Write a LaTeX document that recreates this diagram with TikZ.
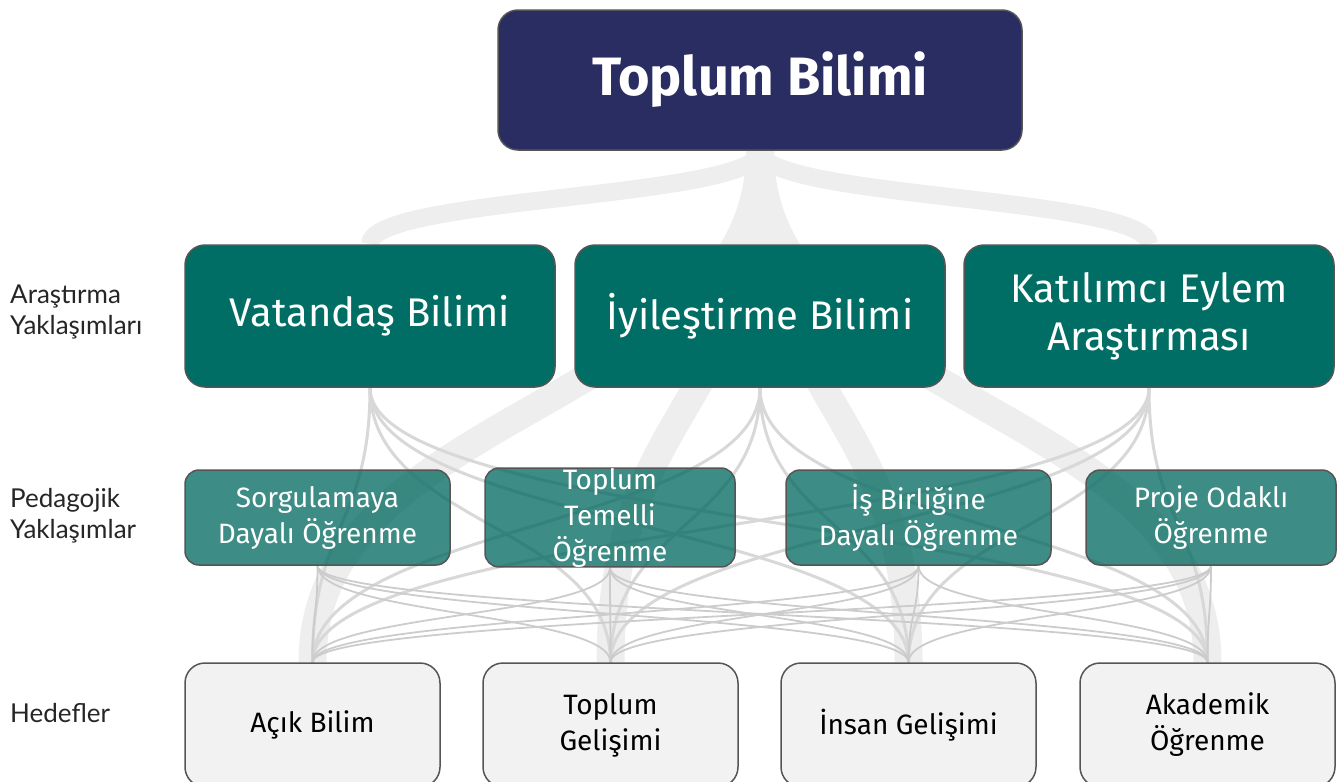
\documentclass[tikz,border=0pt]{standalone}
\usepackage{fontspec}
\setmainfont{Fira Sans}
\newfontfamily\sidefont{Lato}
\usetikzlibrary{calc}
\pgfdeclarelayer{bg}
\pgfsetlayers{bg,main}
\definecolor{TopClr}{RGB}{42,45,98}
\definecolor{ResClr}{RGB}{0,110,100}
\definecolor{PedClr}{RGB}{0,104,94}
\definecolor{GoalClr}{RGB}{242,242,242}
\definecolor{EdgeClr}{RGB}{85,85,85}
\definecolor{BandClr}{RGB}{238,238,238}
\definecolor{LinkClr}{RGB}{216,216,216}
\definecolor{ThinClr}{RGB}{204,204,204}

\tikzset{
  box/.style={draw=EdgeClr,line width=1.5pt,rounded corners=20pt,align=center,inner sep=0pt},
  topbox/.style={box,fill=TopClr,text=white,minimum width=524pt,minimum height=140pt,font=\fontsize{54}{60}\selectfont\bfseries},
  resbox/.style={box,fill=ResClr,text=white,minimum width=370pt,minimum height=142pt,font=\fontsize{40}{48}\selectfont},
  pedbox/.style={box,rounded corners=14pt,fill=PedClr,fill opacity=.76,text opacity=1,text=white,minimum height=95pt,font=\fontsize{28}{36}\selectfont},
  goalbox/.style={box,fill=GoalClr,text=black,minimum width=255pt,minimum height=124pt,font=\fontsize{28}{36}\selectfont},
  side/.style={anchor=west,align=left,inner sep=0pt,text=black!85,font=\sidefont\fontsize{26}{31}\selectfont},
  band/.style={draw=BandClr,line width=18pt},
  wideband/.style={draw=BandClr,line width=28pt},
  link/.style={draw=LinkClr,line width=3pt},
  thinlink/.style={draw=ThinClr,line width=1.8pt}
}

\begin{document}
\begin{tikzpicture}[x=1pt,y=-1pt]
\useasboundingbox (0,0) rectangle (1342,782);

\node[topbox] (top) at (760,80) {Toplum Bilimi};

\node[resbox] (r1) at (370,316) {Vatandaş Bilimi};
\node[resbox] (r2) at (760,316) {İyileştirme Bilimi};
\node[resbox] (r3) at (1149,316) {Katılımcı Eylem\\Araştırması};

\node[pedbox,minimum width=265pt] (p1) at (317.5,517.5) {Sorgulamaya\\Dayalı Öğrenme};
\node[pedbox,minimum width=250pt] (p2) at (610,517.5) {Toplum\\Temelli\\Öğrenme};
\node[pedbox,minimum width=265pt] (p3) at (918.5,517.5) {İş Birliğine\\Dayalı Öğrenme};
\node[pedbox,minimum width=250pt] (p4) at (1211,517.5) {Proje Odaklı\\Öğrenme};

\node[goalbox] (g1) at (312.5,725) {Açık Bilim};
\node[goalbox] (g2) at (610.5,725) {Toplum\\Gelişimi};
\node[goalbox] (g3) at (908.5,725) {İnsan Gelişimi};
\node[goalbox] (g4) at (1207.5,725) {Akademik\\Öğrenme};

\node[side] (sres) at (10,312.5) {Araştırma\\Yaklaşımları};
\node[side] (sped) at (10,516) {Pedagojik\\Yaklaşımlar};
\node[side] (sgoal) at (10,713) {Hedefler};

\begin{pgfonlayer}{bg}
\draw[band] (top.south) to[out=-90,in=90,distance=48pt] (r1.north);
\draw[band] (top.south) -- (r2.north);
\draw[band] (top.south) to[out=-90,in=90,distance=48pt] (r3.north);
\foreach \g in {g1,g2,g3,g4}
  \draw[wideband] (top.south) to[out=-90,in=90,distance=256pt] (\g.north);
\foreach \r in {r1,r2,r3}
  \foreach \g in {g1,g2,g3,g4}
    \draw[link] (\r.south) to[out=-90,in=90,distance=138pt] (\g.north);
\foreach \p in {p1,p2,p3,p4}
  \foreach \g in {g1,g2,g3,g4}
    \draw[thinlink] (\p.south) to[out=-90,in=90,distance=49pt] (\g.north);
\end{pgfonlayer}

\end{tikzpicture}
\end{document}
